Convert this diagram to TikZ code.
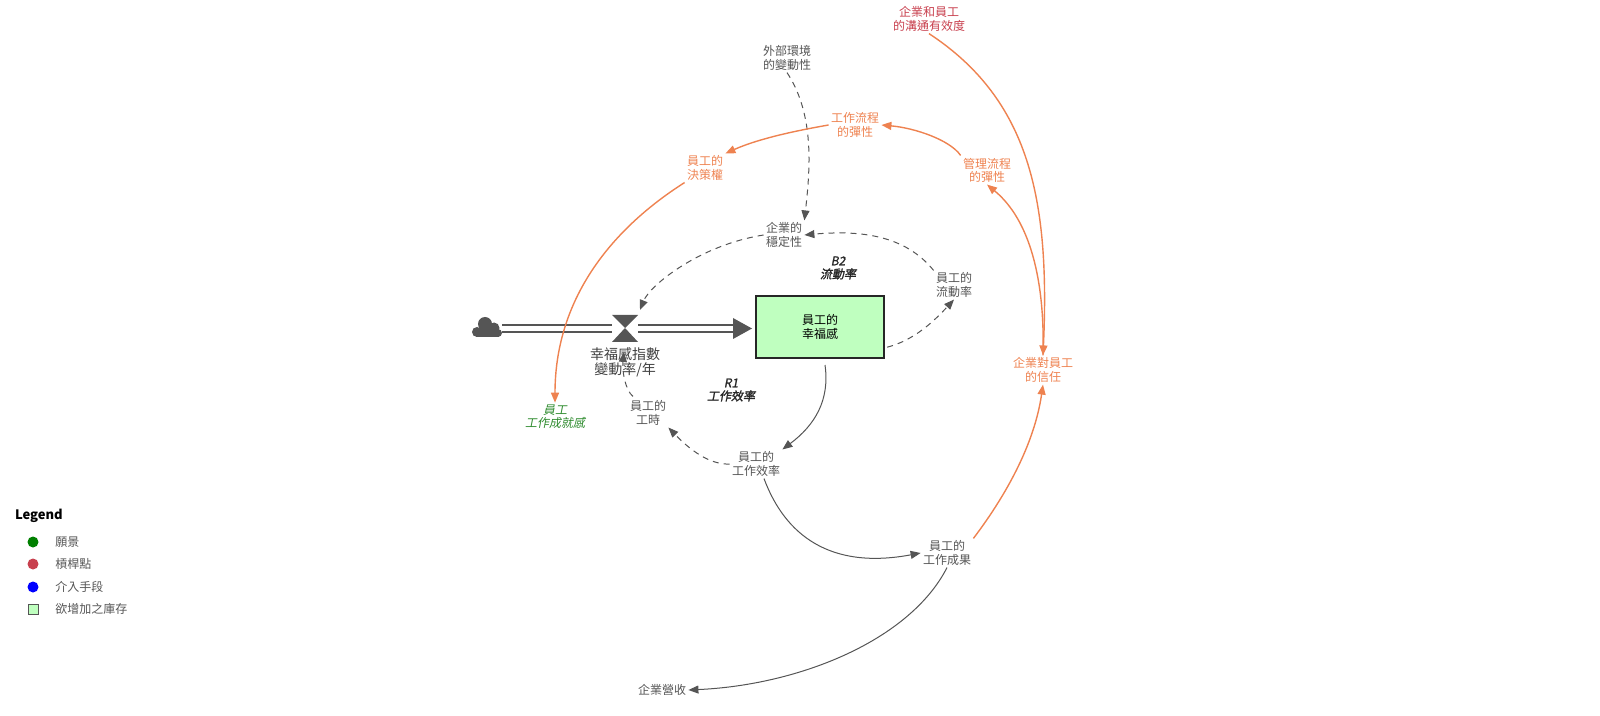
\documentclass[tikz,border=0pt]{standalone}
\usepackage{fontspec}
\setmainfont{Noto Sans CJK TC}
\newfontfamily\itcjk[FakeSlant=0.2]{Noto Sans CJK TC}
\newfontfamily\itbcjk[FakeSlant=0.2,FakeBold=1.5]{Noto Sans CJK TC}
\usetikzlibrary{arrows.meta,shapes.geometric}
\definecolor{og}{HTML}{EE8250}
\definecolor{rd}{HTML}{C8404E}
\definecolor{gy}{HTML}{555555}
\definecolor{gn}{HTML}{2E8B2E}
\begin{document}
\begin{tikzpicture}[x=0.5pt,y=-0.5pt,
  lbl/.style={font=\fontsize{6}{6.6}\selectfont,align=center,inner sep=1pt,text=gy},
  olbl/.style={lbl,text=og},
  loop/.style={lbl,font=\fontsize{6}{6.6}\selectfont\itbcjk,text=black!85},
  arr/.style={-{Triangle[length=5pt,width=4pt]},gy,line width=0.5pt},
  darr/.style={arr,dashed,dash pattern=on 3pt off 2.5pt},
  oarr/.style={-{Triangle[length=5pt,width=4pt]},og,line width=0.7pt}]
\useasboundingbox (0,0) rectangle (1600,716);
% nodes
\node[lbl,text=rd] (comm) at (929,19) {企業和員工\\的溝通有效度};
\node[lbl] (ext) at (787,58) {外部環境\\的變動性};
\node[olbl] (wf) at (855,125) {工作流程\\的彈性};
\node[olbl] (dec) at (705,168) {員工的\\決策權};
\node[olbl] (mf) at (987,170) {管理流程\\的彈性};
\node[lbl] (stab) at (784,235) {企業的\\穩定性};
\node[loop] (b2) at (838,268) {B2\\流動率};
\node[lbl] (turn) at (954,285) {員工的\\流動率};
\node[draw=black!85,line width=1.2pt,fill=green!25!white,minimum width=64pt,minimum height=31pt,font=\fontsize{6}{6.6}\selectfont,align=center] (stock) at (820,327) {員工的\\幸福感};
\fill[gy] (477,332) circle (5);
\fill[gy] (485,324) circle (7);
\fill[gy] (494,328) circle (5.5);
\fill[gy] (498,333) circle (4);
\fill[gy] (476,330) rectangle (499,337);
\coordinate (valve) at (625,328);
\fill[gy] (612,315) -- (638,315) -- (625,328) -- cycle (612,342) -- (638,342) -- (625,328) -- cycle;
\node[lbl,font=\fontsize{7}{7.6}\selectfont,text=black!75] (rate) at (625,362) {幸福感指數\\變動率/年};
\node[loop] (r1) at (731,390) {R1\\工作效率};
\node[lbl] (hrs) at (648,413) {員工的\\工時};
\node[lbl,text=gn,font=\fontsize{6}{6.6}\selectfont\itcjk] (ach) at (555,417) {員工\\工作成就感};
\node[olbl] (trust) at (1043,370) {企業對員工\\的信任};
\node[lbl] (eff) at (756,464) {員工的\\工作效率};
\node[lbl] (res) at (947,553) {員工的\\工作成果};
\node[lbl] (rev) at (662,690) {企業營收};
% flow pipes
\draw[gy,line width=1.2pt] (502,325) -- (612,325) (502,332) -- (612,332);
\draw[gy,line width=1.2pt] (638,325) -- (735,325) (638,332) -- (735,332);
\fill[gy] (733,318) -- (752,328.5) -- (733,339) -- cycle;
% connectors
\draw[darr] (ext.south) .. controls (815,115) and (810,170) .. (stab.north east);
\draw[oarr] (wf.west) .. controls (800,130) and (760,138) .. (dec.north east);
\draw[oarr] (mf.north west) .. controls (950,140) and (915,128) .. (wf.east);
\draw[oarr] (trust.north) .. controls (1045,280) and (1030,220) .. (mf.south);
\draw[oarr] (comm.south) .. controls (1030,100) and (1050,200) .. (trust.north);
\draw[oarr] (dec.south west) .. controls (610,230) and (555,300) .. (ach.north);
\draw[oarr] (res.north east) .. controls (1010,490) and (1035,440) .. (trust.south);
\draw[darr] (turn.north west) .. controls (905,235) and (860,230) .. (stab.east);
\draw[darr] (stab.west) .. controls (700,245) and (650,285) .. (640,310);
\draw[darr] (stock.south east) ++(2,-12) .. controls (915,340) and (935,320) .. (turn.south);
\draw[arr] (825,365) .. controls (830,400) and (815,425) .. (eff.north east);
\draw[darr] (eff.west) .. controls (710,465) and (690,450) .. (hrs.south east);
\draw[darr] (hrs.north) ++(-15,-2) .. controls (625,390) and (622,370) .. (624,352);
\draw[arr] (eff.south) ++(8,0) .. controls (785,535) and (830,570) .. (res.west);
\draw[arr] (res.south) .. controls (910,640) and (800,685) .. (rev.east);
% legend
\node[font=\fontsize{6.5}{7}\selectfont\bfseries,anchor=west] (leg) at (8,516) {Legend};
\fill[green!50!black] (33,542) circle (5.5);
\fill[rd] (33,564) circle (5.5);
\fill[blue] (33,587) circle (5.5);
\draw[gy,fill=green!25!white] (28,604) rectangle (38,614);
\node[lbl,anchor=west] (l1) at (53,542) {願景};
\node[lbl,anchor=west] (l2) at (53,564) {槓桿點};
\node[lbl,anchor=west] (l3) at (53,587) {介入手段};
\node[lbl,anchor=west] (l4) at (53,609) {欲增加之庫存};
\end{tikzpicture}
\end{document}
